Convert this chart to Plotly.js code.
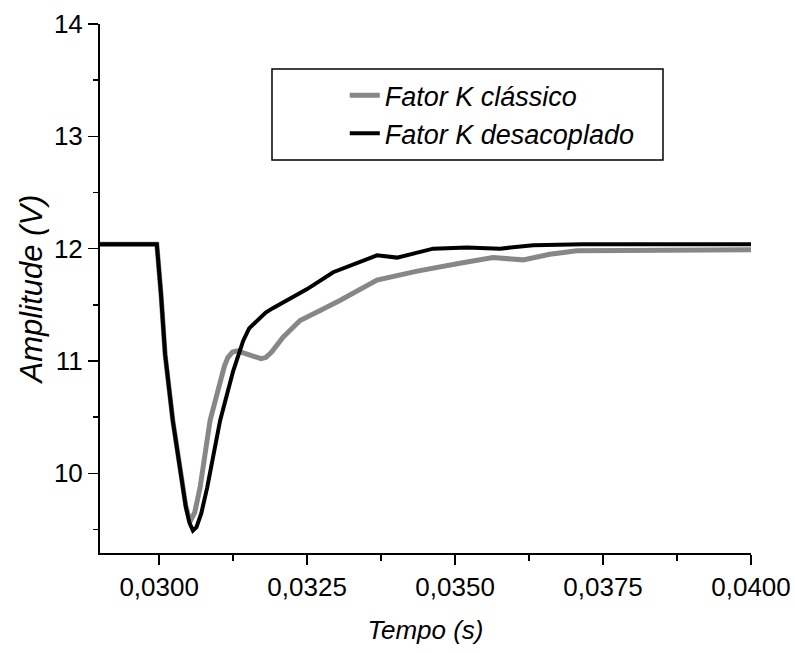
<!DOCTYPE html>
<html>
<head>
<meta charset="utf-8">
<script src="https://cdn.plot.ly/plotly-3.0.1.min.js"></script>
<style>html,body{margin:0;padding:0;background:#fff;}#chart{width:795px;height:653px;}</style>
</head>
<body>
<div id="chart"></div>
<script>
// Series: Fator K clássico (gray)
const tClassico = [0.0290, 0.0295, 0.02996, 0.03003, 0.03010, 0.03023, 0.03039, 0.03045, 0.03050, 0.03054, 0.03060, 0.03069, 0.03086, 0.03103, 0.03110, 0.03116, 0.03124, 0.03132, 0.03150, 0.03162, 0.03172, 0.03180, 0.03190, 0.03209, 0.03238, 0.03272, 0.03306, 0.03368, 0.03436, 0.03508, 0.03564, 0.03615, 0.03660, 0.03706, 0.03800, 0.03900, 0.04000];
const vClassico = [12.04, 12.04, 12.04, 11.60, 11.06, 10.47, 9.87, 9.71, 9.61, 9.59, 9.65, 9.87, 10.47, 10.82, 10.95, 11.03, 11.08, 11.09, 11.06, 11.03, 11.02, 11.03, 11.08, 11.21, 11.36, 11.45, 11.54, 11.72, 11.80, 11.87, 11.92, 11.90, 11.95, 11.98, 11.98, 11.99, 11.99];
// Series: Fator K desacoplado (black)
const tDesacoplado = [0.0290, 0.0295, 0.02996, 0.03003, 0.03010, 0.03023, 0.03039, 0.03045, 0.03051, 0.03057, 0.03063, 0.03071, 0.03081, 0.03103, 0.03125, 0.03142, 0.03152, 0.03165, 0.03180, 0.03192, 0.03250, 0.03294, 0.03368, 0.03402, 0.03463, 0.03520, 0.03576, 0.03632, 0.03716, 0.03800, 0.03900, 0.04000];
const vDesacoplado = [12.04, 12.04, 12.04, 11.60, 11.06, 10.47, 9.87, 9.70, 9.56, 9.49, 9.52, 9.64, 9.87, 10.47, 10.91, 11.18, 11.29, 11.36, 11.43, 11.47, 11.64, 11.79, 11.94, 11.92, 12.00, 12.01, 12.00, 12.03, 12.04, 12.04, 12.04, 12.04];
const seriesNames = ["Fator K clássico", "Fator K desacoplado"];
const xTitle = "Tempo (s)";
const yTitle = "Amplitude (V)";

const FONT = "Liberation Sans, Arial, sans-serif";

const traces = [
  {x: tClassico, y: vClassico, name: seriesNames[0], mode: "lines",
   line: {color: "#878787", width: 5, shape: "linear"}},
  {x: tDesacoplado, y: vDesacoplado, name: seriesNames[1], mode: "lines",
   line: {color: "#000000", width: 4, shape: "linear"}}
];

const axisCommon = {
  showgrid: false, zeroline: false, showline: true, linecolor: "#000", linewidth: 2,
  ticks: "outside", tickcolor: "#000", tickwidth: 1.5, ticklen: 10,
  tickfont: {family: FONT, size: 26, color: "#000"}
};

const layout = {
  width: 795, height: 653,
  margin: {l: 100, r: 44, t: 24, b: 100},
  paper_bgcolor: "#fff", plot_bgcolor: "#fff",
  separators: ",.",
  showlegend: true,
  xaxis: Object.assign({}, axisCommon, {
    range: [0.029, 0.040], tick0: 0.03, dtick: 0.0025, tickformat: ".4f",
    minor: {ticks: "outside", ticklen: 6, tickcolor: "#000", tickwidth: 1.5, dtick: 0.00125, tick0: 0.03},
    title: {text: xTitle, font: {family: FONT, size: 26, color: "#000", style: "italic"}, standoff: 20}
  }),
  yaxis: Object.assign({}, axisCommon, {
    range: [9.29, 14], tick0: 10, dtick: 1,
    minor: {ticks: "outside", ticklen: 5, tickcolor: "#000", tickwidth: 1.5, dtick: 0.5, tick0: 10},
    title: {text: yTitle, font: {family: FONT, size: 31, color: "#000", style: "italic"}, standoff: 2}
  }),
  legend: {
    x: 0.376, y: 0.911, xanchor: "left", yanchor: "top",
    bgcolor: "rgba(0,0,0,0)", borderwidth: 0,
    font: {family: FONT, size: 27, color: "#000", style: "italic"}
  },
  shapes: [{
    type: "rect", xref: "paper", yref: "paper",
    x0: 0.2642, x1: 0.8648, y0: 0.7429, y1: 0.9149,
    line: {color: "#000", width: 1.5}, fillcolor: "rgba(0,0,0,0)", layer: "below"
  }]
};

Plotly.newPlot("chart", traces, layout, {displayModeBar: false, staticPlot: true});
</script>
</body>
</html>
